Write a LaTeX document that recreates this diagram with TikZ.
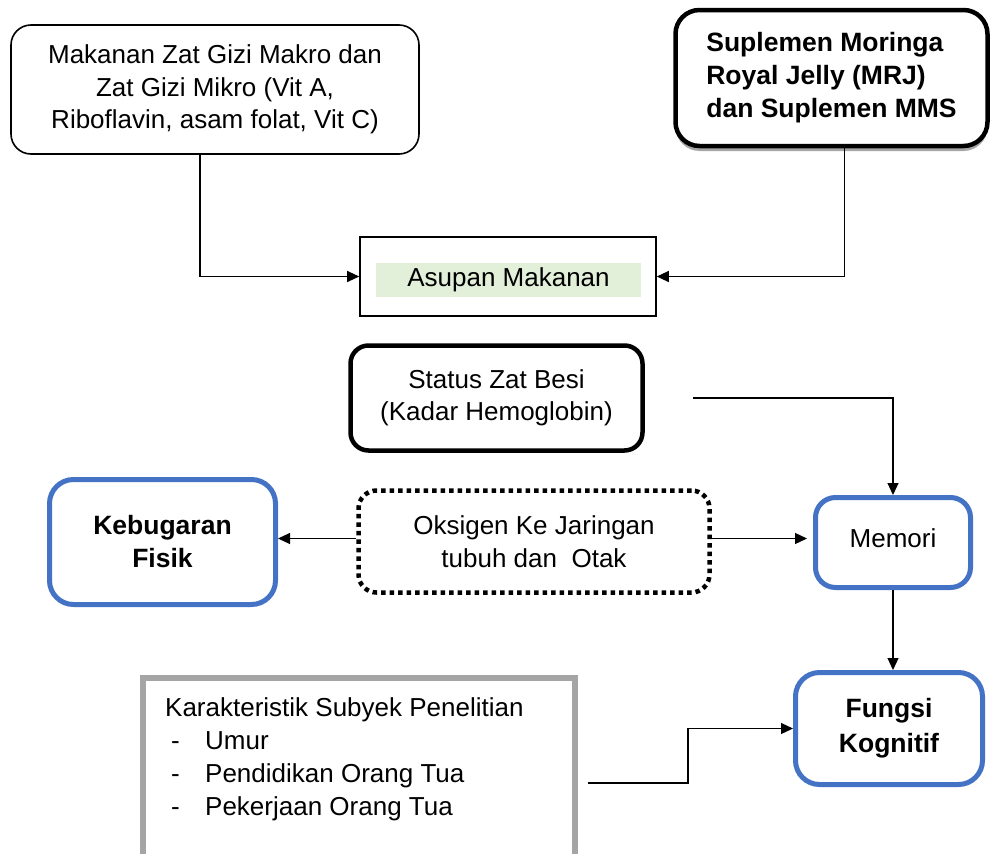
\documentclass[tikz,border=0pt]{standalone}
\usepackage{fontspec}
\setmainfont{Liberation Sans}
\usetikzlibrary{shadows,arrows.meta}
\definecolor{kogblue}{HTML}{4472C4}
\definecolor{kargray}{HTML}{A5A5A5}
\definecolor{asupgreen}{HTML}{E2EFD9}
\begin{document}
\begin{tikzpicture}[x=1pt, y=-1pt,
        every node/.style = {font=\fontsize{26}{32.5}\selectfont, align=center, inner sep=0pt},
        thinbox/.style = {draw, line width=1.6pt, rounded corners=20pt},
        blackbox/.style = {draw, line width=4.5pt, rounded corners=20pt},
        bluebox/.style = {draw=kogblue, line width=5pt, rounded corners=24pt},
        boldtext/.style = {font=\fontsize{26.5}{33}\selectfont\bfseries},
        link/.style = {line width=1.2pt, ->, >={Triangle[length=12pt, width=11pt]}}]
        \useasboundingbox (0,0) rectangle (991,854);

        % sumber asupan
        \node[thinbox, minimum width=408, minimum height=129] (makanan) at (215,89.5)
            {Makanan Zat Gizi Makro dan\\Zat Gizi Mikro (Vit A,\\Riboflavin, asam folat, Vit C)};
        \node[blackbox, boldtext, align=left, fill=white, rounded corners=24pt, minimum width=312, minimum height=136,
            drop shadow={shadow xshift=0pt, shadow yshift=-5pt, fill=gray!70, opacity=1}] (suplemen) at (831.5,78)
            {Suplemen Moringa\\Royal Jelly (MRJ)\\dan Suplemen MMS};
        \node[draw, line width=1.6pt, minimum width=296, minimum height=79] (asupan) at (508,276.5) {};
        \node[fill=asupgreen, minimum width=265, minimum height=34] (asupantext) at (508.5,280) {Asupan Makanan};

        \draw[link] ([xshift=-15pt]makanan.south) |- (asupan.west);
        \draw[link] ([xshift=13pt]suplemen.south) |- (asupan.east);

        % zat besi dan oksigen
        \node[blackbox, rounded corners=18pt, minimum width=292, minimum height=105] (besi) at (496.5,398)
            {Status Zat Besi\\(Kadar Hemoglobin)};
        \node[draw, line width=4.5pt, dash pattern=on 4.5pt off 4pt, rounded corners=18pt,
            minimum width=351, minimum height=102] (oksigen) at (534,541.5)
            {Oksigen Ke Jaringan\\tubuh dan\ \ Otak};
        \node[bluebox, boldtext, minimum width=226, minimum height=125] (bugar) at (162.5,542)
            {Kebugaran\\Fisik};
        \node[bluebox, rounded corners=20pt, minimum width=155, minimum height=90] (memori) at (893,542.5)
            {\raisebox{9pt}{Memori}};
        \node[bluebox, boldtext, minimum width=187, minimum height=112] (kognitif) at (889,728.5)
            {Fungsi\\[2pt]Kognitif};

        \draw[link] ([xshift=48pt]besi.east) -| (memori.north);
        \draw[link] ([yshift=3pt]oksigen.west) -- ([yshift=3pt]oksigen.west -| bugar.east);
        \draw[link] ([yshift=3pt]oksigen.east) -- ([yshift=3pt,xshift=-6pt]oksigen.east -| memori.west);
        \draw[link] (memori.south) -- (memori.south |- kognitif.north);

        % karakteristik subyek
        \node[draw=kargray, line width=6pt, minimum width=432, minimum height=202] (subyek) at (359,779) {};
        \node[anchor=north west, align=left, font=\fontsize{26}{33.3}\selectfont] (subyektext) at (165,697)
            {Karakteristik Subyek Penelitian\\
             \hspace*{6pt}\makebox[34pt][l]{-}Umur\\
             \hspace*{6pt}\makebox[34pt][l]{-}Pendidikan Orang Tua\\
             \hspace*{6pt}\makebox[34pt][l]{-}Pekerjaan Orang Tua};
        \draw[link] ([xshift=10pt,yshift=-4pt]subyek.east) -- ++(100,0) |- (kognitif.west);
\end{tikzpicture}
\end{document}
